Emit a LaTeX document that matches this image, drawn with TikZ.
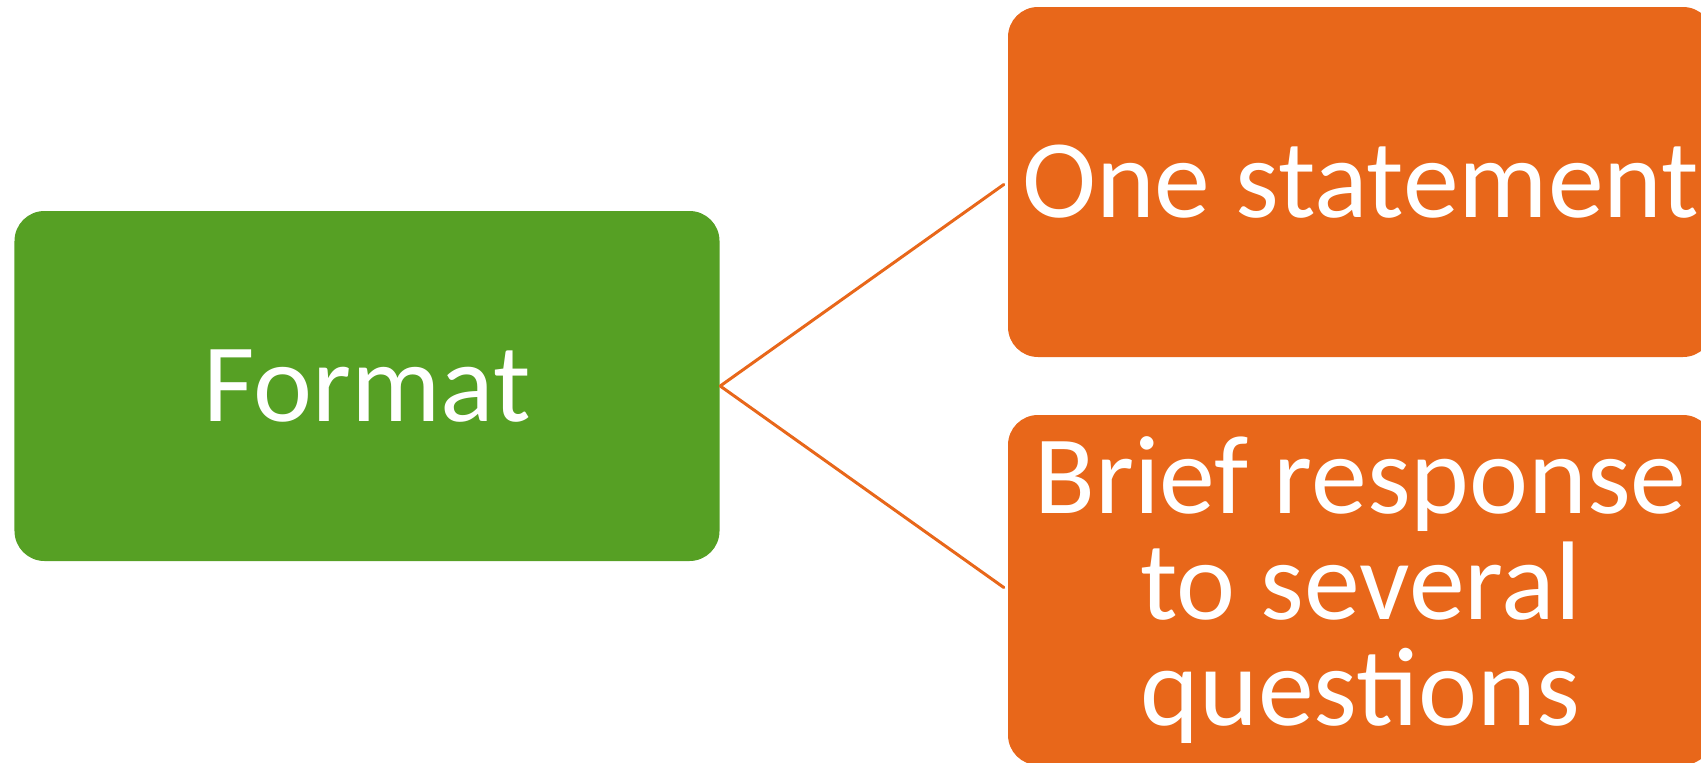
\documentclass[tikz,border=0pt]{standalone}
\usepackage{fontspec}
\setmainfont{Carlito}
\definecolor{fmtgreen}{HTML}{56A024}
\definecolor{fmtorange}{HTML}{E8671A}
\begin{document}
\begin{tikzpicture}[line cap=round, line join=round, font=\fontsize{31.8}{30.2}\selectfont]
			\tikzset{box style/.style={rounded corners=0.3cm, inner sep=0pt, minimum width=7.05cm, minimum height=3.5cm, align=center, text=white},
				root box/.style={box style, fill=fmtgreen},
				leaf box/.style={box style, fill=fmtorange},
				link/.style={draw=fmtorange, line width=0.85pt, shorten >=1.2pt}}
			\useasboundingbox (0,0) rectangle (17.01,-7.62);
			\node[root box] (format) at (3.67,-3.86) {Format};
			\node[leaf box] (one) at (13.605,-1.82) {One statement};
			\node[leaf box] (brief) at (13.605,-5.90) {Brief response\\to several\\questions};
			\draw[link] (format.east)--(one.west);
			\draw[link] (format.east)--(brief.west);
	\end{tikzpicture}
\end{document}
